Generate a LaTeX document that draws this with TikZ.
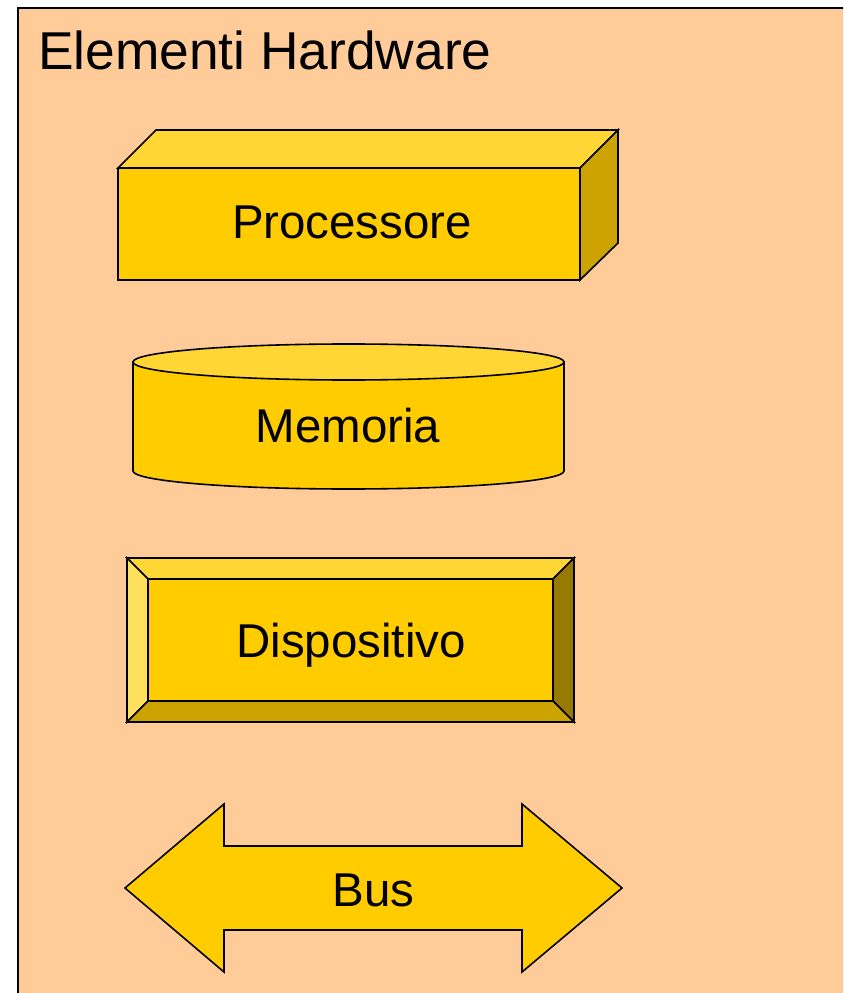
\documentclass[tikz,border=0pt]{standalone}
\usepackage{fontspec}
\setmainfont{Liberation Sans}
\definecolor{sfondo}{HTML}{FFCC99}
\definecolor{giallo}{HTML}{FFCC00}
\definecolor{chiaro}{HTML}{FFD633}
\definecolor{lume}{HTML}{FFE05C}
\definecolor{scuro}{HTML}{CCA300}
\definecolor{ombra}{HTML}{997A00}
\begin{document}
\begin{tikzpicture}[x=0.03cm,y=-0.03cm,
    bordo/.style={draw=black,line width=0.048cm,line join=miter},
    etichetta/.style={anchor=base,inner sep=0pt,font=\fontsize{40.5}{48}\selectfont}]
                    \useasboundingbox (0,0) rectangle (843,993);
                    \clip (0,0) rectangle (843,993);

                    % Drawing frame
                    \draw [fill=sfondo,line width=0.06cm] (18,8) rectangle (900,1050);%
                    \node [anchor=base west,inner sep=0pt,font=\fontsize{45.5}{54}\selectfont] (titolo) at (38,70) {Elementi Hardware};%

                    % Drawing box Processore
                    \draw [bordo,fill=chiaro] (118,168) -- (156,130) -- (618,130) -- (580,168) -- cycle;%
                    \draw [bordo,fill=scuro] (580,168) -- (618,130) -- (618,243) -- (580,280) -- cycle;%
                    \draw [bordo,fill=giallo] (118,168) rectangle (580,280);%
                    \node [etichetta] (processore) at (352,239) {Processore};%

                    % Drawing cylinder Memoria
                    \draw [bordo,fill=giallo] (133,362) -- (133,471) arc [start angle=180,end angle=0,x radius=215.5,y radius=18] -- (564,362) -- cycle;%
                    \draw [bordo,fill=chiaro] (348.5,362) ellipse [x radius=215.5,y radius=18];%
                    \node [etichetta] (memoria) at (348,442) {Memoria};%

                    % Drawing bevel Dispositivo
                    \draw [bordo,fill=chiaro] (127,558) -- (574,558) -- (553,579) -- (148,579) -- cycle;%
                    \draw [bordo,fill=lume] (127,558) -- (148,579) -- (148,701) -- (127,722) -- cycle;%
                    \draw [bordo,fill=ombra] (574,558) -- (574,722) -- (553,701) -- (553,579) -- cycle;%
                    \draw [bordo,fill=scuro] (127,722) -- (148,701) -- (553,701) -- (574,722) -- cycle;%
                    \draw [bordo,fill=giallo] (148,579) rectangle (553,701);%
                    \node [etichetta] (dispositivo) at (351,657) {Dispositivo};%

                    % Drawing arrow Bus
                    \draw [bordo,fill=giallo] (125,888) -- (224,804) -- (224,846) -- (522,846) -- (522,804) -- (622,888)
                        -- (522,972) -- (522,930) -- (224,930) -- (224,972) -- cycle;%
                    \node [etichetta] (bus) at (373.5,906) {Bus};%
                \end{tikzpicture}
\end{document}
